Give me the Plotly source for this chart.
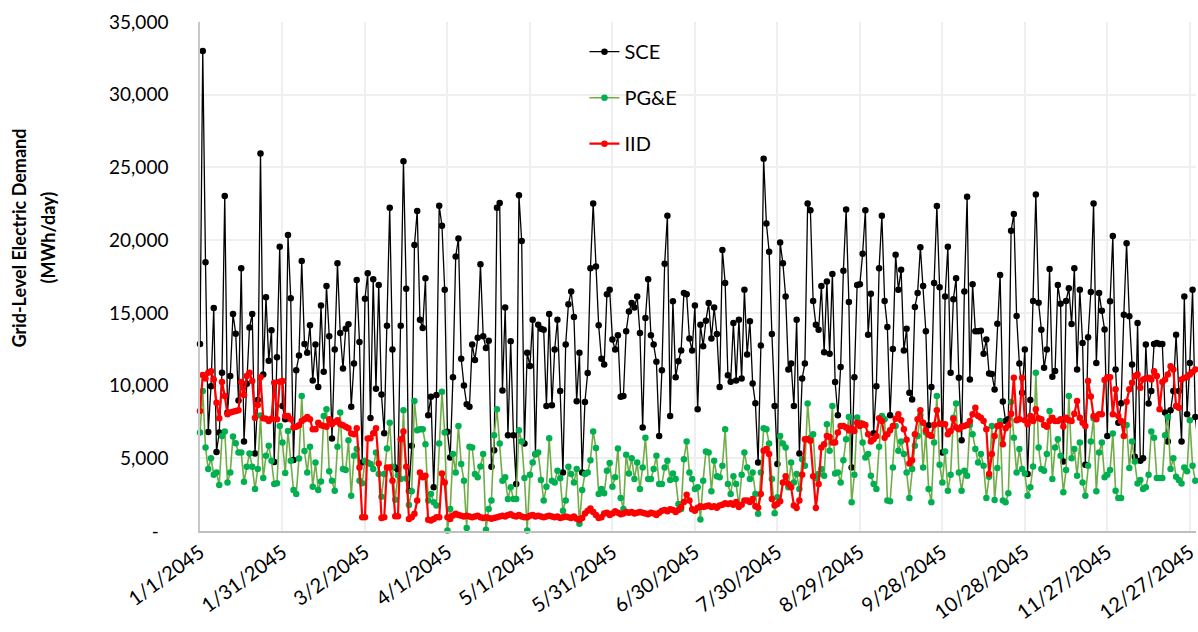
import pandas as pd
import plotly.graph_objects as go

# Daily grid-level electric demand, MWh/day, 1/1/2045 onward
sce = [
    12860, 33000, 18480, 6800, 9960, 15330, 5440, 6770, 10880, 23040,
    8140, 10650, 14920, 13570, 8980, 18070, 6150, 10120, 14000, 14920,
    5330, 9000, 25950, 10760, 16080, 11710, 13810, 4750, 11940, 19550,
    8600, 7680, 20350, 16010, 4890, 11060, 12060, 18560, 12860, 12250,
    14140, 10350, 12820, 9900, 15510, 10950, 16850, 13390, 6360, 12480,
    18410, 13610, 11170, 13900, 14210, 8550, 11520, 17260, 13000, 4710,
    15970, 17720, 7770, 17310, 9780, 16920, 9390, 6720, 14120, 22220,
    12480, 4370, 4190, 14120, 25420, 16650, 2770, 5860, 19670, 22000,
    14530, 13960, 17380, 7960, 9230, 3000, 9350, 22360, 20990, 16590,
    6830, 5060, 10580, 18870, 20120, 11840, 10010, 8710, 8550, 12820,
    11750, 13280, 18340, 13390, 12590, 13090, 4410, 5550, 22220, 22560,
    9660, 15370, 6580, 13050, 6580, 3230, 23090, 19940, 6010, 12250,
    11340, 14530, 5270, 14180, 13900, 13840, 8600, 14920, 8640, 12480,
    14530, 9620, 4030, 12820, 15600, 16470, 14710, 8930, 12250, 4030,
    8870, 10870, 18070, 22520, 18180, 14140, 11840, 11450, 16280, 16590,
    13160, 12480, 13460, 9230, 9280, 13730, 15100, 15670, 15370, 16120,
    13620, 7110, 14640, 17310, 13460, 12820, 11630, 6540, 11060, 18370,
    21680, 7910, 15790, 10580, 11670, 12410, 16360, 16280, 13230, 12410,
    15510, 8370, 14180, 12710, 14460, 15670, 13230, 15370, 13550, 9900,
    19330, 17050, 10710, 10260, 14300, 10350, 14530, 10490, 16590, 12140,
    14420, 10150, 8780, 4710, 12750, 25600, 21150, 19210, 13550, 8600,
    4600, 19830, 18410, 16120, 11110, 11520, 8600, 14530, 5330, 10490,
    11520, 22520, 22060, 15820, 14180, 13840, 16850, 12290, 17160, 12180,
    17680, 10240, 7960, 11270, 17890, 22110, 15740, 4370, 10580, 16920,
    16970, 19060, 22060, 13500, 16310, 6720, 9960, 18070, 21680, 15820,
    14020, 7960, 12520, 19000, 16590, 17960, 12410, 13900, 9510, 9050,
    15400, 16360, 19510, 16850, 13730, 7270, 9900, 17050, 22340, 16760,
    5400, 16120, 19550, 10880, 15940, 17380, 10530, 6240, 16470, 22980,
    10420, 16970, 13730, 13730, 13770, 12180, 13160, 10830, 10800, 9730,
    14250, 17610, 8900, 7570, 7680, 20650, 21790, 14780, 11520, 9510,
    12480, 3920, 9000, 15820, 23140, 15700, 13840, 11220, 12480, 18020,
    10600, 11000, 16920, 15620, 4780, 15820, 16700, 14230, 18070, 11110,
    16590, 12930, 4550, 13320, 16430, 22520, 11560, 16360, 15150, 13850,
    6540, 15790, 20280, 11110, 7450, 8780, 14870, 19780, 14760, 11450,
    5100, 14300, 4830, 5000, 12820, 8760, 9620, 12860, 12930, 12860,
    12860, 8140, 6150, 8300, 9620, 13500, 9620, 6150, 16130, 8030,
    11560, 16590, 7840, 6000, 5500,
]

pge = [
    6770, 9620, 5740, 4260, 5010, 3870, 4030, 3160, 6540, 6840,
    3340, 4030, 6490, 6040, 5400, 5400, 3380, 4410, 5330, 4410,
    2880, 4260, 7950, 3650, 5170, 5860, 4830, 3230, 3280, 7220,
    6080, 3990, 6880, 4830, 2820, 2550, 4990, 9280, 5500, 4030,
    5790, 3050, 4710, 2820, 3410, 7900, 8370, 4100, 3460, 2770,
    5790, 8140, 4260, 4190, 6240, 2420, 5170, 5630, 3460, 3280,
    4830, 4710, 4600, 4260, 5400, 3920, 2360, 3920, 5670, 7450,
    4410, 2150, 3840, 3570, 8300, 3610, 1790, 2730, 8940, 6930,
    7000, 7000, 5970, 2090, 2550, 1980, 1750, 6010, 9580, 6770,
    30, 1520, 5290, 4030, 7220, 4600, 3460, 200, 5790, 5740,
    3920, 3690, 4440, 5290, 80, 1520, 2090, 6580, 8370, 6010,
    3460, 3690, 2200, 3000, 2200, 2200, 6930, 6150, 3650, 30,
    3870, 4710, 5290, 5400, 3500, 2090, 3050, 6380, 3460, 3340,
    4140, 3620, 1400, 2090, 4410, 3920, 3340, 4260, 490, 2820,
    3920, 4030, 4870, 6840, 5700, 2550, 2890, 2590, 4140, 4670,
    3050, 3690, 5670, 2270, 1520, 5240, 3960, 5010, 3570, 4710,
    2890, 4370, 6420, 3570, 3570, 4260, 5170, 3230, 3230, 4370,
    4830, 3500, 3960, 3570, 1860, 1520, 4940, 6150, 4030, 3570,
    2890, 3000, 790, 3460, 5470, 5400, 2730, 4830, 3760, 3690,
    4490, 7000, 3230, 2550, 3760, 3230, 1750, 3870, 5400, 4370,
    3570, 4030, 2550, 1180, 4030, 7060, 7000, 6010, 3570, 1220,
    2320, 6540, 6010, 5740, 3000, 4710, 3340, 3920, 2890, 4940,
    4490, 8760, 6420, 6650, 3620, 3920, 4260, 3800, 7340, 5510,
    8600, 3960, 4030, 3340, 4870, 6310, 7840, 1980, 3870, 7800,
    7450, 6080, 5060, 5290, 3800, 3230, 2890, 5790, 7900, 7680,
    2090, 2040, 4370, 7220, 5510, 6150, 5290, 4030, 2270, 4260,
    5860, 6540, 7970, 4370, 6770, 2890, 1980, 6080, 9280, 4560,
    3340, 5470, 2770, 3870, 7790, 8760, 4030, 2770, 4140, 3800,
    7290, 6650, 5630, 4710, 5290, 4490, 2270, 3730, 7220, 2130,
    4330, 7570, 2090, 1980, 2590, 8870, 6420, 4030, 5630, 4260,
    3960, 2430, 3000, 4440, 10880, 5740, 4260, 4140, 5290, 8250,
    3570, 5740, 6310, 5170, 2660, 4190, 9280, 5010, 5630, 3800,
    6080, 3340, 2430, 4490, 6150, 7750, 2730, 5400, 6080, 3690,
    3870, 4190, 6700, 2770, 2270, 2270, 7340, 7290, 4330, 6150,
    4780, 3270, 3500, 2890, 3000, 3870, 6840, 6420, 3650, 3650,
    3650, 6590, 7840, 4260, 5010, 3730, 3500, 3270, 4370, 4100,
    7610, 4490, 3460, 3000, 3500,
]

iid = [
    8250, 10720, 10490, 10880, 10990, 10420, 8820, 7750, 10240, 9280,
    8030, 8140, 8200, 8250, 8300, 10240, 9350, 10650, 10880, 10310,
    7790, 8660, 10580, 7750, 7720, 7570, 7720, 10190, 7680, 10260,
    10310, 7910, 7910, 7680, 7110, 7160, 7270, 7570, 7680, 7840,
    7680, 7000, 7000, 7450, 7270, 7220, 7160, 7680, 7340, 7500,
    7610, 7340, 7270, 7160, 7060, 6700, 6650, 7060, 4370, 950,
    950, 6360, 6380, 6720, 7060, 4640, 900, 950, 4370, 4370,
    3460, 1010, 1010, 6310, 6840, 4410, 830, 950, 1180, 2090,
    4030, 3690, 3800, 770, 720, 830, 950, 950, 3960, 3340,
    950, 830, 1060, 1180, 1100, 1050, 1000, 1050, 1000, 950,
    1000, 1050, 950, 900, 950, 900, 850, 900, 950, 1000,
    1050, 1000, 1100, 1150, 1050, 1000, 1100, 1000, 950, 950,
    1050, 1100, 1000, 1050, 1000, 950, 1000, 1050, 1000, 950,
    1000, 900, 950, 1000, 950, 900, 1000, 850, 750, 900,
    1200, 1400, 1550, 1300, 1100, 900, 950, 1200, 1250, 1100,
    1200, 1350, 1250, 1150, 1200, 1300, 1250, 1300, 1200, 1250,
    1300, 1250, 1200, 1150, 1250, 1200, 1100, 1250, 1400, 1450,
    1350, 1500, 1450, 1300, 1450, 1650, 2000, 2500, 2100, 1500,
    1400, 1600, 1700, 1650, 1700, 1750, 1650, 1700, 1600, 1750,
    1800, 1900, 1850, 1900, 1800, 2000, 1650, 1800, 2090, 2100,
    2000, 2200, 1700, 1600, 2550, 5510, 5630, 5290, 2200, 1750,
    1860, 2040, 3340, 3760, 3230, 3000, 1750, 1590, 2090, 3870,
    6310, 6310, 6200, 3760, 1590, 3230, 5740, 5970, 6540, 6470,
    6080, 6080, 6770, 7220, 7220, 7110, 6930, 7060, 6880, 7450,
    7220, 7380, 7290, 6650, 6150, 6310, 6540, 7750, 7570, 6420,
    6650, 6930, 7220, 7720, 8030, 7610, 7000, 6270, 4640, 4870,
    6650, 7680, 8300, 7450, 6930, 6610, 6540, 7290, 8300, 7380,
    7380, 7340, 6650, 6880, 7720, 7110, 7000, 7160, 7220, 7290,
    7570, 8030, 8480, 7910, 7790, 7570, 7000, 3920, 5290, 6540,
    7220, 7290, 5970, 7060, 7270, 8070, 10540, 7610, 7680, 10540,
    7610, 7340, 7910, 7570, 8370, 7750, 7680, 7290, 7160, 7570,
    7790, 7570, 7570, 7680, 7180, 7790, 7610, 7570, 8070, 8940,
    7790, 7450, 7220, 10310, 9240, 7910, 7680, 8030, 8030, 10380,
    10580, 10580, 8030, 9740, 7910, 7570, 6540, 8890, 9740, 10190,
    10650, 10760, 9850, 10420, 10490, 10540, 10420, 10990, 10650, 8370,
    10240, 10420, 10760, 11330, 11110, 8600, 8480, 10420, 10540, 10580,
    10760, 10940, 11110, 11000, 10900,
]

x_tick_labels = [
    "1/1/2045", "1/31/2045", "3/2/2045", "4/1/2045", "5/1/2045",
    "5/31/2045", "6/30/2045", "7/30/2045", "8/29/2045", "9/28/2045",
    "10/28/2045", "11/27/2045", "12/27/2045",
]
y_tick_values = [0, 5000, 10000, 15000, 20000, 25000, 30000, 35000]
y_tick_labels = ["-\u00a0\u00a0", "5,000", "10,000", "15,000", "20,000",
                 "25,000", "30,000", "35,000"]

assert len(sce) == len(pge) == len(iid) == 365

dates = pd.date_range("2045-01-01", periods=len(sce), freq="D")
tick_dates = [d.strftime("%Y-%m-%d")
              for d in pd.to_datetime(x_tick_labels, format="%m/%d/%Y")]

FONT = "Lato"
fig = go.Figure()
series = [
    ("SCE", sce, "#000000", "#000000", 1.3),
    ("PG&E", pge, "#70AD47", "#00B050", 1.6),
    ("IID", iid, "#FF0000", "#FF0000", 2.2),
]
for name, values, line_color, marker_color, lw in series:
    fig.add_trace(go.Scatter(
        x=dates, y=values, mode="lines+markers", name=name,
        legendgroup=name,
        line=dict(color=line_color, width=lw),
        marker=dict(color=marker_color, size=6.5),
        cliponaxis=False,
    ))

# white box behind the legend, covering the gridlines
fig.add_shape(type="rect", xref="paper", yref="paper",
              x0=0.3457, x1=0.518, y0=0.723, y1=0.974,
              fillcolor="white", line=dict(width=0), layer="between")

fig.update_layout(
    width=1198, height=632,
    margin=dict(l=200, r=0, t=22, b=101),
    paper_bgcolor="white", plot_bgcolor="white",
    font=dict(family=FONT, color="#000000"),
    showlegend=True,
    legend=dict(
        x=0.386, y=0.98, xanchor="left", yanchor="top",
        bgcolor="rgba(0,0,0,0)", font=dict(size=20, family=FONT),
        tracegroupgap=17, itemwidth=30,
    ),
    xaxis=dict(
        type="date",
        range=["2045-01-01", "2045-12-29 06:00"],
        tickvals=tick_dates, ticktext=x_tick_labels,
        tickangle=-36, tickfont=dict(size=20, family=FONT),
        ticklabeloverflow="allow",
        showgrid=True, gridcolor="#EFEFEF", gridwidth=1.5,
        showline=True, linecolor="#BFBFBF", linewidth=2,
        ticks="", zeroline=False,
    ),
    yaxis=dict(
        range=[0, 35000],
        tickvals=y_tick_values, ticktext=y_tick_labels,
        tickfont=dict(size=19, family=FONT),
        showgrid=True, gridcolor="#EFEFEF", gridwidth=1.5,
        showline=True, linecolor="#C8C8C8", linewidth=1.5,
        ticks="", zeroline=False, ticklabelstandoff=26,
    ),
    annotations=[
        dict(text="<b>Grid-Level Electric Demand</b>", textangle=-90,
             xref="paper", yref="paper", x=-0.182, y=0.576,
             xanchor="center", yanchor="middle", showarrow=False,
             font=dict(size=18, family=FONT)),
        dict(text="<b>(MWh/day)</b>", textangle=-90,
             xref="paper", yref="paper", x=-0.153, y=0.576,
             xanchor="center", yanchor="middle", showarrow=False,
             font=dict(size=18, family=FONT)),
    ],
)

fig.write_html("out.html")
